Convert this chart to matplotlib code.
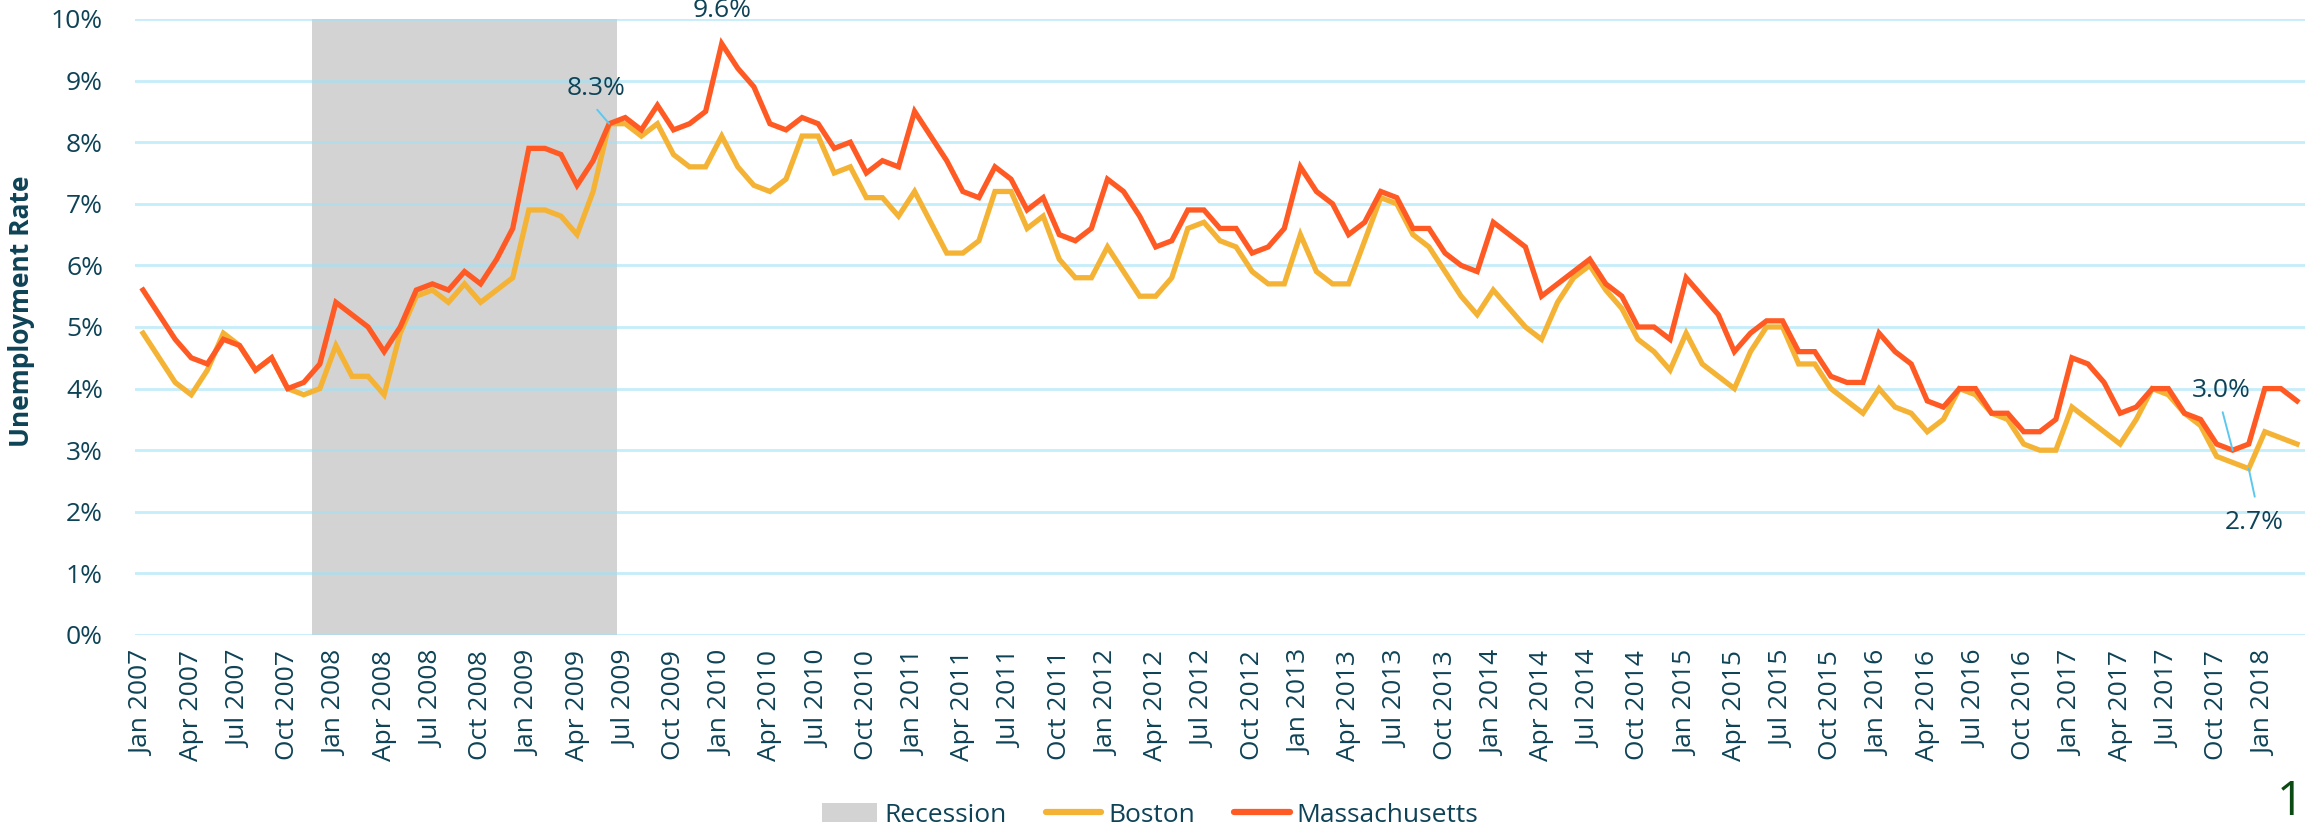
import matplotlib
matplotlib.use("Agg")
import matplotlib.pyplot as plt
from matplotlib.patches import Patch
from matplotlib.lines import Line2D

plt.rcParams['font.family'] = ['Open Sans', 'DejaVu Sans']

# ---- data (monthly, Jan 2007 - Mar 2018) ----
months = [f"{m} {y}" for y in range(2007, 2019)
          for m in ["Jan", "Feb", "Mar", "Apr", "May", "Jun",
                    "Jul", "Aug", "Sep", "Oct", "Nov", "Dec"]][:135]

massachusetts = [
    5.6, 5.2, 4.8, 4.5, 4.4, 4.8, 4.7, 4.3, 4.5, 4.0, 4.1, 4.4,
    5.4, 5.2, 5.0, 4.6, 5.0, 5.6, 5.7, 5.6, 5.9, 5.7, 6.1, 6.6,
    7.9, 7.9, 7.8, 7.3, 7.7, 8.3, 8.4, 8.2, 8.6, 8.2, 8.3, 8.5,
    9.6, 9.2, 8.9, 8.3, 8.2, 8.4, 8.3, 7.9, 8.0, 7.5, 7.7, 7.6,
    8.5, 8.1, 7.7, 7.2, 7.1, 7.6, 7.4, 6.9, 7.1, 6.5, 6.4, 6.6,
    7.4, 7.2, 6.8, 6.3, 6.4, 6.9, 6.9, 6.6, 6.6, 6.2, 6.3, 6.6,
    7.6, 7.2, 7.0, 6.5, 6.7, 7.2, 7.1, 6.6, 6.6, 6.2, 6.0, 5.9,
    6.7, 6.5, 6.3, 5.5, 5.7, 5.9, 6.1, 5.7, 5.5, 5.0, 5.0, 4.8,
    5.8, 5.5, 5.2, 4.6, 4.9, 5.1, 5.1, 4.6, 4.6, 4.2, 4.1, 4.1,
    4.9, 4.6, 4.4, 3.8, 3.7, 4.0, 4.0, 3.6, 3.6, 3.3, 3.3, 3.5,
    4.5, 4.4, 4.1, 3.6, 3.7, 4.0, 4.0, 3.6, 3.5, 3.1, 3.0, 3.1,
    4.0, 4.0, 3.8,
]

boston = [
    4.9, 4.5, 4.1, 3.9, 4.3, 4.9, 4.7, 4.3, 4.5, 4.0, 3.9, 4.0,
    4.7, 4.2, 4.2, 3.9, 4.9, 5.5, 5.6, 5.4, 5.7, 5.4, 5.6, 5.8,
    6.9, 6.9, 6.8, 6.5, 7.2, 8.3, 8.3, 8.1, 8.3, 7.8, 7.6, 7.6,
    8.1, 7.6, 7.3, 7.2, 7.4, 8.1, 8.1, 7.5, 7.6, 7.1, 7.1, 6.8,
    7.2, 6.7, 6.2, 6.2, 6.4, 7.2, 7.2, 6.6, 6.8, 6.1, 5.8, 5.8,
    6.3, 5.9, 5.5, 5.5, 5.8, 6.6, 6.7, 6.4, 6.3, 5.9, 5.7, 5.7,
    6.5, 5.9, 5.7, 5.7, 6.4, 7.1, 7.0, 6.5, 6.3, 5.9, 5.5, 5.2,
    5.6, 5.3, 5.0, 4.8, 5.4, 5.8, 6.0, 5.6, 5.3, 4.8, 4.6, 4.3,
    4.9, 4.4, 4.2, 4.0, 4.6, 5.0, 5.0, 4.4, 4.4, 4.0, 3.8, 3.6,
    4.0, 3.7, 3.6, 3.3, 3.5, 4.0, 3.9, 3.6, 3.5, 3.1, 3.0, 3.0,
    3.7, 3.5, 3.3, 3.1, 3.5, 4.0, 3.9, 3.6, 3.4, 2.9, 2.8, 2.7,
    3.3, 3.2, 3.1,
]

recession_start = "Dec 2007"
recession_end = "Jun 2009"
y_ticks = [0, 1, 2, 3, 4, 5, 6, 7, 8, 9, 10]

# ---- style ----
TXT = '#0E4357'
C_BOS = '#F5B335'
C_MA = '#FF5A24'
C_REC = '#D3D3D3'
C_LEAD = '#5CC8F0'

W, H, DPI = 2305, 836, 100
fig = plt.figure(figsize=(W / DPI, H / DPI), dpi=DPI)
ax = fig.add_axes([135 / W, 1 - 635 / H, 1 - 135 / W, (635 - 19) / H])

x = list(range(len(months)))
i0 = months.index(recession_start)
i1 = months.index(recession_end)
ax.axvspan(i0 - 0.5, i1 + 0.5, ymin=0, ymax=1, color=C_REC, lw=0, zorder=1)

for t in y_ticks:
    ax.axhline(t, color='#9EE3F7', alpha=0.6, lw=2.0, zorder=2)

ax.plot(x, boston, color=C_BOS, lw=3.8, zorder=3, solid_joinstyle='miter')
ax.plot(x, massachusetts, color=C_MA, lw=3.8, zorder=4, solid_joinstyle='miter')

ax.set_xlim(-0.5, len(months) - 0.5)
ax.set_ylim(0, 10)
ax.set_yticks(y_ticks)
ax.set_yticklabels([f"{t}%" for t in y_ticks])
tick_idx = list(range(0, len(months), 3))
ax.set_xticks(tick_idx)
ax.set_xticklabels([months[i] for i in tick_idx], rotation=90)
ax.tick_params(axis='both', length=0, labelsize=19, labelcolor=TXT)
ax.tick_params(axis='x', pad=11)
ax.tick_params(axis='y', pad=23)
for s in ax.spines.values():
    s.set_visible(False)


def label(idx, series, text, toff, loff=None):
    pt = (idx, series[idx])
    if loff is not None:
        ax.annotate('', xy=pt, xytext=loff, textcoords='offset pixels',
                    arrowprops=dict(arrowstyle='-', color=C_LEAD, lw=1.4,
                                    shrinkA=0, shrinkB=0), zorder=5)
    ax.annotate(text, xy=pt, xytext=toff, textcoords='offset pixels',
                ha='center', va='center', fontsize=19, color=TXT, zorder=6)


i83 = months.index("Jun 2009")
label(i83, massachusetts, f"{massachusetts[i83]:.1f}%", (-13, 35), (-12, 14))
i96 = months.index("Jan 2010")
ax.annotate(f"{massachusetts[i96]:.1f}%", xy=(i96, massachusetts[i96]),
            xytext=(0, 27), textcoords='offset pixels', ha='center',
            va='baseline', fontsize=19, color=TXT, annotation_clip=False)
i30 = months.index("Nov 2017")
label(i30, massachusetts, f"{massachusetts[i30]:.1f}%", (-11, 60), (-10, 38))
i27 = months.index("Dec 2017")
label(i27, boston, f"{boston[i27]:.1f}%", (6, -54), (6, -28))

fig.text(22 / W, 1 - 311 / H, "Unemployment Rate", rotation=90,
         ha='center', va='center', fontsize=19, fontweight='bold', color=TXT)

handles = [Patch(facecolor=C_REC, edgecolor='none', label='Recession'),
           Line2D([], [], color=C_BOS, lw=4.5, solid_capstyle='round', label='Boston'),
           Line2D([], [], color=C_MA, lw=4.5, solid_capstyle='round', label='Massachusetts')]
leg = fig.legend(handles=handles, loc='center', bbox_to_anchor=(1150 / W, 1 - 815 / H),
                 ncol=3, frameon=False, fontsize=19, handlelength=2.1,
                 handletextpad=0.25, columnspacing=1.5, labelcolor=TXT)

fig.text(2290 / W, 1 - 802 / H, "1", ha='center', va='center',
         fontsize=34, color='#0B4A12')

fig.savefig("out.png", dpi=DPI)
